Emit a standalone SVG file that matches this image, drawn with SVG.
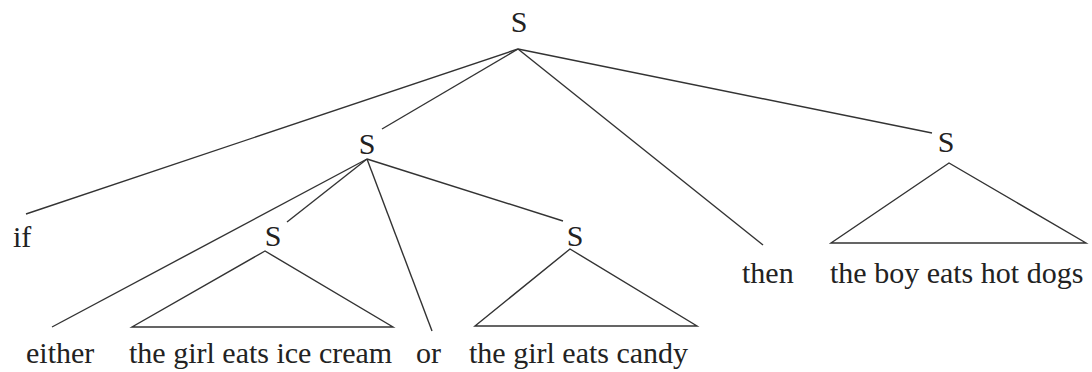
<svg xmlns="http://www.w3.org/2000/svg" width="1092" height="372" viewBox="0 0 1092 372">
<style>
text{font-family:"Liberation Serif","Times New Roman",serif;font-size:30px;fill:#222}
.lbl{text-anchor:middle}
line,polygon{stroke:#333;stroke-width:1.4;fill:none;stroke-linejoin:miter}
</style>
<rect width="1092" height="372" fill="#fff"/>
<g id="connectors">
<line x1="518" y1="49" x2="26" y2="214"/>
<line x1="518" y1="49" x2="382" y2="129"/>
<line x1="518" y1="49" x2="763" y2="245"/>
<line x1="518" y1="49" x2="932" y2="133"/>
<line x1="367" y1="159" x2="52" y2="327"/>
<line x1="367" y1="159" x2="287" y2="222"/>
<line x1="367" y1="159" x2="432" y2="331"/>
<line x1="367" y1="159" x2="563" y2="221"/>
<polygon points="265,251 132,327 393,327"/>
<polygon points="570,249 475,326 697,326"/>
<polygon points="949,163 831,243 1086,243"/>
</g>
<g id="s-root"><text class="lbl" x="519" y="32">S</text></g>
<g id="s-mid"><text class="lbl" x="367" y="154">S</text></g>
<g id="s-right"><text class="lbl" x="946" y="152">S</text></g>
<g id="s-left"><text class="lbl" x="273" y="246">S</text></g>
<g id="s-candy"><text class="lbl" x="575" y="246">S</text></g>
<g id="w-if"><text x="13" y="247">if</text></g>
<g id="w-then"><text x="742" y="283">then</text></g>
<g id="w-boy"><text x="830" y="283">the boy eats hot dogs</text></g>
<g id="w-either"><text x="26" y="363">either</text></g>
<g id="w-icecream"><text x="129" y="363">the girl eats ice cream</text></g>
<g id="w-or"><text x="416" y="363">or</text></g>
<g id="w-candy"><text x="469" y="363">the girl eats candy</text></g>
</svg>
